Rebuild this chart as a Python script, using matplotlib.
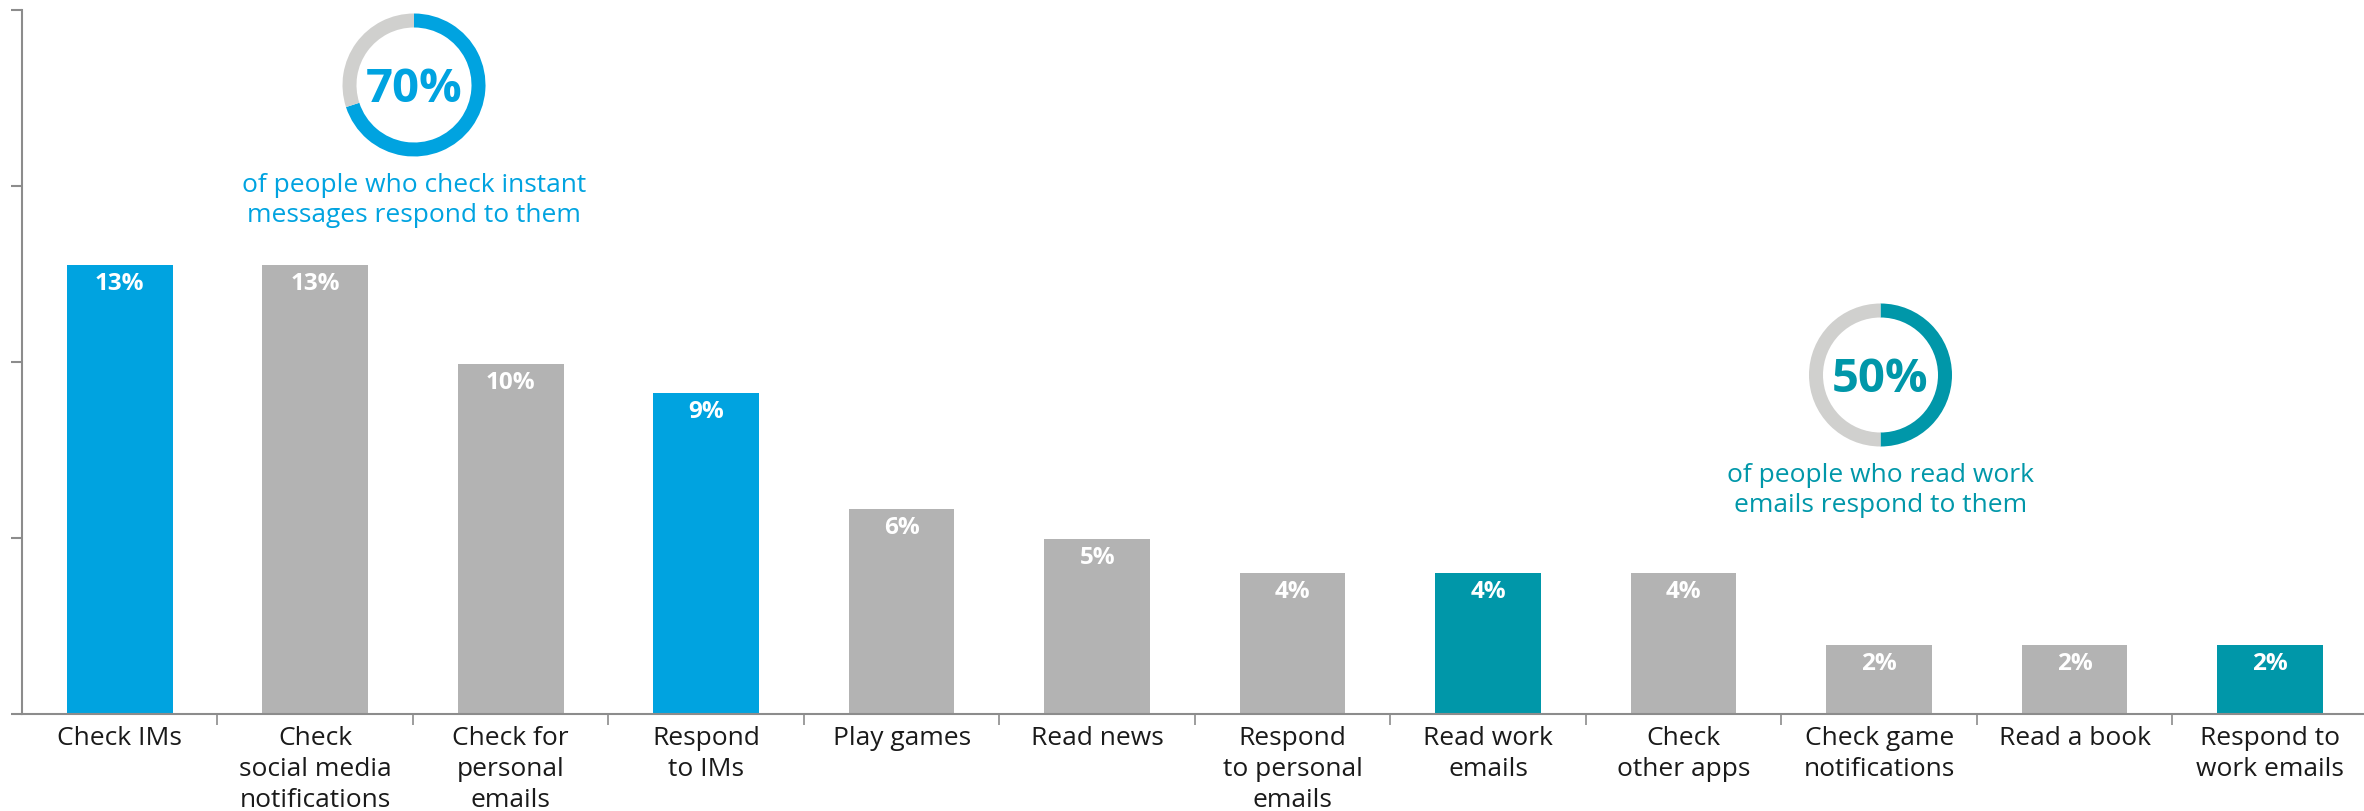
import matplotlib
matplotlib.use("Agg")
import matplotlib.pyplot as plt
from matplotlib.ticker import FixedLocator

plt.rcParams['font.family'] = ['Open Sans', 'DejaVu Sans']

# ---- data ----
categories = ["Check IMs", "Check\nsocial media\nnotifications", "Check for\npersonal\nemails",
              "Respond\nto IMs", "Play games", "Read news", "Respond\nto personal\nemails",
              "Read work\nemails", "Check\nother apps", "Check game\nnotifications",
              "Read a book", "Respond to\nwork emails"]
values = [12.75, 12.75, 9.95, 9.1, 5.8, 4.95, 4.0, 4.0, 4.0, 1.95, 1.95, 1.95]
value_labels = ["13%", "13%", "10%", "9%", "6%", "5%", "4%", "4%", "4%", "2%", "2%", "2%"]
y_ticks = [0, 5, 10, 15, 20]

donut1_values = [70, 30]
donut1_label = "70%"
donut1_caption = "of people who check instant\nmessages respond to them"
donut2_values = [50, 50]
donut2_label = "50%"
donut2_caption = "of people who read work\nemails respond to them"

# ---- styles ----
BLUE = '#00A3E0'
TEAL = '#0097A9'
GRAY = '#B3B3B3'
LIGHT = '#D0D0CE'
AXIS = '#8C8C8C'
TEXT = '#1A1A1A'
bar_colors = [BLUE, GRAY, GRAY, BLUE, GRAY, GRAY, GRAY, TEAL, GRAY, GRAY, GRAY, TEAL]

W, H = 2364, 812
fig = plt.figure(figsize=(W / 100, H / 100), dpi=100)

ax_left, ax_right, ax_bottom, ax_top = 22, 2364, 714.5, 11
ax = fig.add_axes([ax_left / W, 1 - ax_bottom / H, (ax_right - ax_left) / W, (ax_bottom - ax_top) / H])

x = list(range(len(categories)))
bars = ax.bar(x, values, width=0.54, color=bar_colors, zorder=2)
for rect, lab in zip(bars, value_labels):
    ax.annotate(lab, (rect.get_x() + rect.get_width() / 2, rect.get_height()),
                xytext=(0, -6), textcoords='offset pixels', ha='center', va='top',
                color='white', fontsize=17.5, fontweight='bold')

ax.set_xlim(-0.5, 11.48)
ax.set_ylim(0, 20)

for s in ['top', 'right']:
    ax.spines[s].set_visible(False)
for s in ['left', 'bottom']:
    ax.spines[s].set_color(AXIS)
    ax.spines[s].set_linewidth(1.5)

ax.set_yticks(y_ticks)
ax.set_yticklabels([])
ax.tick_params(axis='y', length=8, width=1.5, color=AXIS, direction='out')

ax.set_xticks(x)
ax.set_xticklabels(categories, fontsize=19, color=TEXT, linespacing=1.32)
ax.tick_params(axis='x', which='major', length=0, pad=8.5)
ax.xaxis.set_minor_locator(FixedLocator([i + 0.5 for i in range(len(categories) - 1)]))
ax.tick_params(axis='x', which='minor', length=8, width=1.2, color=AXIS, direction='out')


def donut(cx, cy, r, vals, color, label, caption, cap_top):
    dax = fig.add_axes([(cx - r) / W, 1 - (cy + r) / H, 2 * r / W, 2 * r / H])
    dax.pie(vals, colors=[color, LIGHT], startangle=90, counterclock=False, radius=1,
            wedgeprops=dict(width=14 / r, linewidth=0))
    dax.set_xlim(-1, 1)
    dax.set_ylim(-1, 1)
    dax.axis('off')
    dax.text(0, -15.7 / r, label, ha='center', va='baseline', color=color,
             fontsize=34, fontweight='bold')
    fig.text(cx / W, 1 - cap_top / H, caption, ha='center', va='top', color=color,
             fontsize=19, linespacing=1.24)


donut(414, 86, 71.5, donut1_values, BLUE, donut1_label, donut1_caption, 173)
donut(1880.5, 376, 71.5, donut2_values, TEAL, donut2_label, donut2_caption, 463)

fig.savefig('out.png', dpi=100)
